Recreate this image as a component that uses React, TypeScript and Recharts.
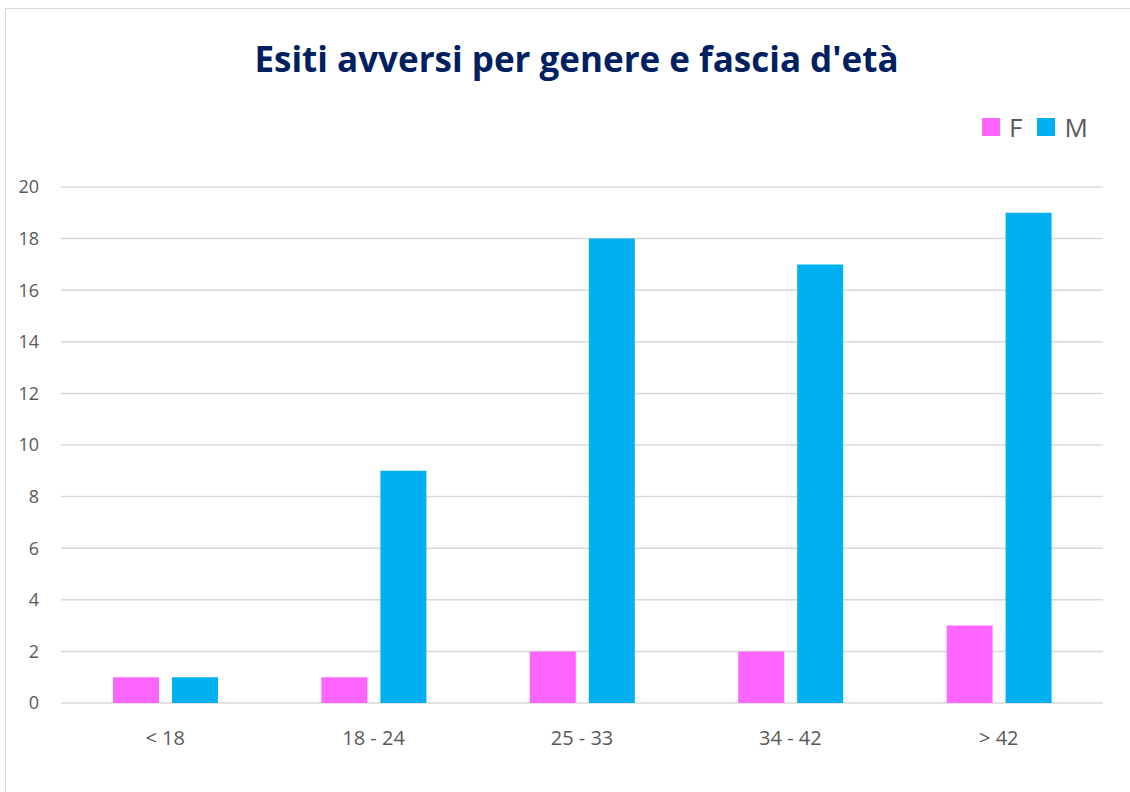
import { BarChart, Bar, XAxis, YAxis, CartesianGrid } from "recharts";

const title = "Esiti avversi per genere e fascia d'età";
const categories = ["< 18", "18 - 24", "25 - 33", "34 - 42", "> 42"];
const femmine = [1, 1, 2, 2, 3];
const maschi = [1, 9, 18, 17, 19];
const yTicks = [0, 2, 4, 6, 8, 10, 12, 14, 16, 18, 20];
const boundaryTicks = [0, 1, 2, 3, 4, 5];
const series = [
  { key: "F", color: "#FF66FF" },
  { key: "M", color: "#00B0F0" },
];

const data = categories.map((c, i) => ({ cat: c, F: femmine[i], M: maschi[i] }));

export default function App() {
  return (
    <div style={{ position: "absolute", left: 0, top: 0, width: 1130, height: 792, background: "#fff", overflow: "hidden", fontFamily: "'Open Sans', sans-serif" }}>
      <div style={{ position: "absolute", left: 5, top: 8, width: 1200, height: 900, border: "1px solid #d9d9d9" }} />
      <div style={{ position: "absolute", left: 0, top: 35, width: 1153, textAlign: "center", fontSize: 35, fontWeight: 700, color: "#002060", lineHeight: "48px" }}>
        {title}
      </div>
      <div style={{ position: "absolute", left: 982, top: 110, display: "flex", alignItems: "center", fontSize: 26, color: "#595959", lineHeight: "34px" }}>
        {series.map((s) => (
          <div key={s.key} style={{ display: "flex", alignItems: "center", marginRight: 15 }}>
            <div style={{ width: 18, height: 18, background: s.color, marginRight: 9 }} />
            <span>{s.key}</span>
          </div>
        ))}
      </div>
      <div style={{ position: "absolute", left: 0, top: 0 }}>
        <BarChart width={1130} height={792} data={data} margin={{ top: 187, right: 27, bottom: 0, left: 0 }} barSize={46} barGap={13}>
          <CartesianGrid vertical={false} stroke="#d9d9d9" strokeWidth={1.5} />
          <XAxis xAxisId="b" type="number" domain={[0, 5]} ticks={boundaryTicks} tick={false} height={0} axisLine={{ stroke: "#d9d9d9", strokeWidth: 1.5 }} tickLine={{ stroke: "#d9d9d9", strokeWidth: 1.5 }} tickSize={6} />
          <XAxis xAxisId="c" dataKey="cat" height={89} axisLine={false} tickLine={false} tickMargin={22} tick={{ fill: "#595959", fontSize: 20 }} interval={0} />
          <YAxis width={61} domain={[0, 20]} ticks={yTicks} axisLine={false} tickLine={false} tickMargin={16} tick={{ fill: "#595959", fontSize: 18, textAnchor: "end" }} />
          {series.map((s) => (
            <Bar key={s.key} xAxisId="c" dataKey={s.key} fill={s.color} isAnimationActive={false} />
          ))}
        </BarChart>
      </div>
    </div>
  );
}
